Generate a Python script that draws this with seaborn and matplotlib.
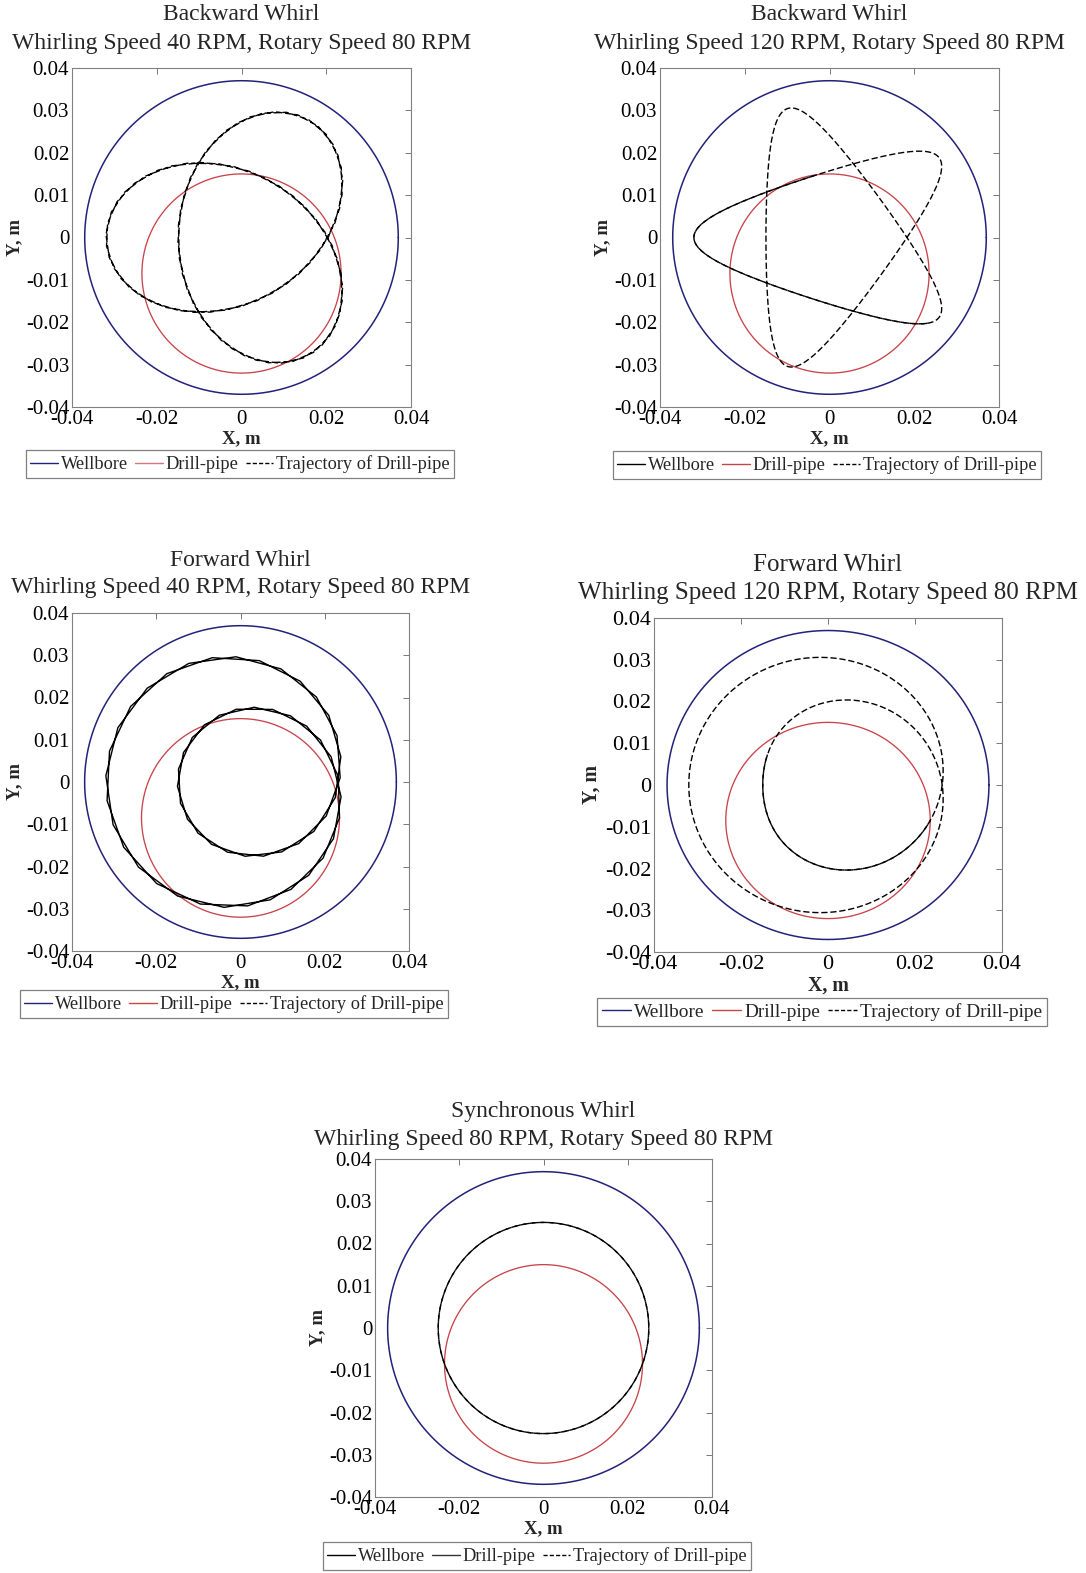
import numpy as np
import pandas as pd
import matplotlib.pyplot as plt
from matplotlib.lines import Line2D
import seaborn as sns

sns.set_theme(style='white')
plt.rcParams['font.family'] = ['Liberation Serif', 'DejaVu Serif']

# Panel text
title_top = ['Backward Whirl', 'Backward Whirl', 'Forward Whirl', 'Forward Whirl', 'Synchronous Whirl']
title_bottom = ['Whirling Speed 40 RPM, Rotary Speed 80 RPM',
                'Whirling Speed 120 RPM, Rotary Speed 80 RPM',
                'Whirling Speed 40 RPM, Rotary Speed 80 RPM',
                'Whirling Speed 120 RPM, Rotary Speed 80 RPM',
                'Whirling Speed 80 RPM, Rotary Speed 80 RPM']
legend_labels = ['Wellbore', 'Drill-pipe', 'Trajectory of Drill-pipe']

# Whirl / rotation (RPM), backward whirl is negative
whirl_rpm = [-40, -120, 40, 120, 80]
rotary_rpm = [80, 80, 80, 80, 80]

# Geometry (m)
wellbore_radius = 0.037
pipe_radius = 0.0235
eccentricity = 0.0085
whirl_phase_deg = -90
rotary_phase_deg = 0

# Simulated time window (s): start, one full pattern period, extra time re-traced after it
t_start = [0.0, 0.9693, 0.0, 1.0464, 0.0]
t_period = [1.5, 1.5, 1.5, 1.5, 0.75]
t_extra = [1.5, 0.425, 1.5, 0.4536, 0.75]
t_step = [1.5 / 44.5, 0.004, 1.5 / 29.5, 0.004, 0.004]
# coarse runs are drawn as one polyline; the others show the re-traced part as a second pass
split_pass = [False, True, False, True, True]

# Ticks
x_ticks = [-0.04, -0.02, 0, 0.02, 0.04]
x_tick_labels = ['-0.04', '-0.02', '0', '0.02', '0.04']
y_ticks = [-0.04, -0.03, -0.02, -0.01, 0, 0.01, 0.02, 0.03, 0.04]
y_tick_labels = ['-0.04', '-0.03', '-0.02', '-0.01', '0', '0.01', '0.02', '0.03', '0.04']

# Colours
navy = '#22227a'
red = '#c94449'
legend_wb_colors = [navy, 'black', navy, navy, 'black']
legend_pipe_colors = ['#d9737a', red, red, red, '#333333']
dash = (4.5, 2)
traj_styles = [(0, dash), (0, dash), '-', (0, dash), (0, dash)]
font_scale = [1.0, 1.0, 1.0, 1.06, 1.0]

# Layout in pixels: axes box (left, top, right, bottom), title lines, legend centre
W, H = 1086, 1573
axes_px = [(72, 68, 411, 407), (660, 68, 999, 407), (72, 613, 409, 951),
           (654, 618, 1002, 952), (375, 1159, 712, 1497)]
title_y = [(15, 44), (15, 44), (560, 588), (565, 593), (1112, 1140)]
legend_px = [(240, 464), (827, 465), (234, 1004), (822, 1012), (537, 1556)]

fig = plt.figure(figsize=(W / 100, H / 100), dpi=100)

theta = np.linspace(0, 2 * np.pi, 721)
wellbore = pd.DataFrame({'x': wellbore_radius * np.cos(theta), 'y': wellbore_radius * np.sin(theta)})
pipe_cx = eccentricity * np.cos(np.radians(whirl_phase_deg))
pipe_cy = eccentricity * np.sin(np.radians(whirl_phase_deg))
pipe = pd.DataFrame({'x': pipe_cx + pipe_radius * np.cos(theta), 'y': pipe_cy + pipe_radius * np.sin(theta)})


def surface_point(i, tt):
    # point on the drill-pipe surface: whirling centre + rotating radius
    aw = 2 * np.pi * whirl_rpm[i] / 60 * tt + np.radians(whirl_phase_deg)
    ar = 2 * np.pi * rotary_rpm[i] / 60 * tt + np.radians(rotary_phase_deg)
    return pd.DataFrame({'x': eccentricity * np.cos(aw) + pipe_radius * np.cos(ar),
                         'y': eccentricity * np.sin(aw) + pipe_radius * np.sin(ar)})


for i in range(5):
    l, t, r, b = axes_px[i]
    ax = fig.add_axes([l / W, 1 - b / H, (r - l) / W, (b - t) / H])
    fs = font_scale[i]

    sns.lineplot(data=wellbore, x='x', y='y', sort=False, estimator=None, color=navy, lw=1.1, ax=ax)
    sns.lineplot(data=pipe, x='x', y='y', sort=False, estimator=None, color=red, lw=0.95, ax=ax)

    t0, t1 = t_start[i], t_start[i] + t_period[i] + t_extra[i]
    if split_pass[i]:
        t_mid = t0 + t_period[i]
        first = surface_point(i, np.linspace(t0, t_mid, int(round(t_period[i] / t_step[i])) + 1))
        second = surface_point(i, np.linspace(t_mid, t1, int(round(t_extra[i] / t_step[i])) + 1))
        sns.lineplot(data=first, x='x', y='y', sort=False, estimator=None, color='black', lw=1.0,
                     linestyle=(0, dash), ax=ax)
        sns.lineplot(data=second, x='x', y='y', sort=False, estimator=None, color='black', lw=1.0,
                     linestyle=(dash[0], dash), ax=ax)
    else:
        traj = surface_point(i, np.arange(t0, t1 + t_step[i] / 2, t_step[i]))
        sns.lineplot(data=traj, x='x', y='y', sort=False, estimator=None, color='black', lw=1.0,
                     linestyle=traj_styles[i], ax=ax)

    ax.set_xlim(-0.04, 0.04)
    ax.set_ylim(-0.04, 0.04)
    ax.set_xticks(x_ticks)
    ax.set_xticklabels(x_tick_labels)
    ax.set_yticks(y_ticks)
    ax.set_yticklabels(y_tick_labels)
    ax.tick_params(direction='in', length=4, width=0.7, color='#777777', top=True, right=True,
                   labelsize=15 * fs, pad=2, labelcolor='black')
    for s in ax.spines.values():
        s.set_color('#808080')
        s.set_linewidth(0.8)
    ax.set_xlabel('X, m', fontsize=13.5 * fs, fontweight='bold', labelpad=1)
    ax.set_ylabel('Y, m', fontsize=13.5 * fs, fontweight='bold', labelpad=2)

    cx = (l + r) / 2
    fig.text(cx / W, 1 - title_y[i][0] / H, title_top[i], ha='center', va='center', fontsize=17 * fs)
    fig.text(cx / W, 1 - title_y[i][1] / H, title_bottom[i], ha='center', va='center', fontsize=17 * fs)

    handles = [Line2D([], [], color=legend_wb_colors[i], lw=1.0),
               Line2D([], [], color=legend_pipe_colors[i], lw=1.0),
               Line2D([], [], color='black', lw=1.0, linestyle=(0, (3, 1.5)))]
    lx, ly = legend_px[i]
    leg = fig.legend(handles, legend_labels, loc='center', bbox_to_anchor=(lx / W, 1 - ly / H), ncol=3,
                     fontsize=13.2 * fs, frameon=True, fancybox=False, framealpha=1, edgecolor='#808080',
                     handlelength=1.5, handletextpad=0.15, columnspacing=0.4, borderpad=0.25,
                     borderaxespad=0)
    leg.get_frame().set_linewidth(0.9)

fig.savefig('out.png', dpi=100, facecolor='white')
